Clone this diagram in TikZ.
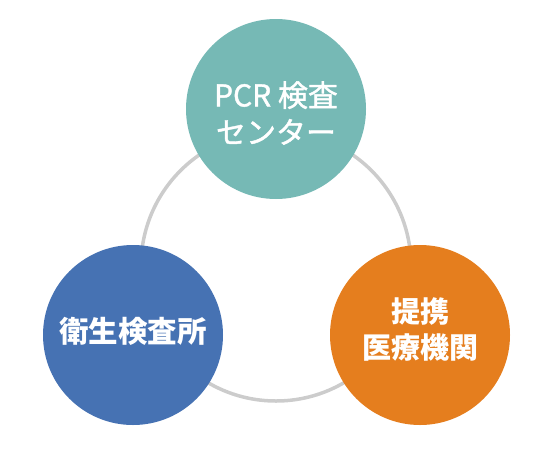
\documentclass[tikz,border=0pt]{standalone}
\usepackage{fontspec}
\newfontfamily\cjk{Noto Sans CJK JP}
\newfontfamily\cjkmed[FakeBold=1.4]{Noto Sans CJK JP}
\definecolor{RingClr}{RGB}{204,204,204}
\definecolor{TopClr}{RGB}{118,185,181}
\definecolor{LeftClr}{RGB}{70,114,179}
\definecolor{RightClr}{RGB}{229,126,30}

\begin{document}
\begin{tikzpicture}[x=1pt,y=-1pt,
  ball/.style={circle,minimum size=180pt,inner sep=0pt},
  caption/.style={text=white,align=center,inner sep=0pt},
  ring/.style={line width=3.5pt,color=RingClr}]
\useasboundingbox (0,0) rectangle (553,458);

\coordinate (Mid) at (276,266);
\draw[ring] (Mid) circle (135);

\node[ball,fill=TopClr] (Pcr) at (276,109) {};
\node[ball,fill=LeftClr] (Eisei) at (133,335) {};
\node[ball,fill=RightClr] (Iryo) at (420,335) {};

\node[caption,font=\cjkmed\fontsize{30}{37}\selectfont] (PcrTxt) at ([yshift=-4pt]Pcr) {PCR 検査\\センター};
\node[caption,font=\cjk\bfseries\fontsize{29.5}{36}\selectfont] (EiseiTxt) at ([yshift=4pt]Eisei) {衛生検査所};
\node[caption,font=\cjk\bfseries\fontsize{29}{36}\selectfont] (IryoTxt) at ([yshift=6pt]Iryo) {提携\\医療機関};

\end{tikzpicture}
\end{document}
